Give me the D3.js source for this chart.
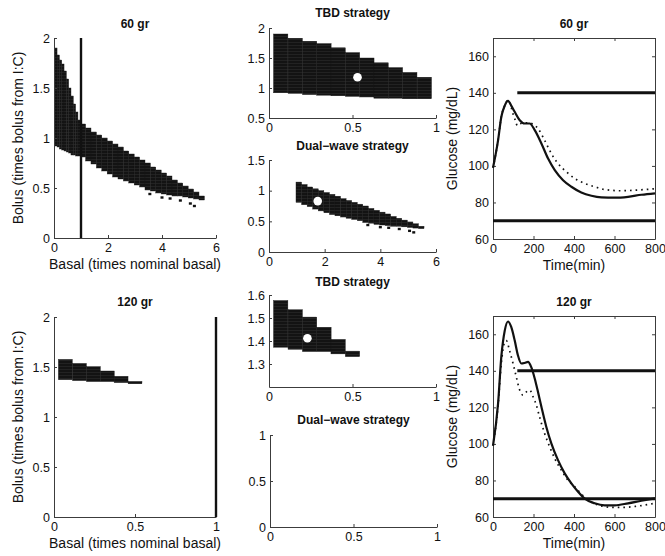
<!DOCTYPE html>
<html>
<head>
<meta charset="utf-8">
<script src="https://cdn.jsdelivr.net/npm/d3@7"></script>
<style>
body{margin:0;background:#fff}
text{font-family:"Liberation Sans",Arial,sans-serif;fill:#111}
</style>
</head>
<body>
<div id="roott"></div>
<script>
// ---- data ----
// TBD strategy, 60 gr : basal column centres, bolus upper / lower bound
let tbdBasal60 = [0.07,0.157,0.243,0.329,0.414,0.5,0.586,0.671,0.757,0.843,0.93];
let tbdHi60    = [1.90,1.83,1.78,1.74,1.67,1.59,1.50,1.42,1.34,1.26,1.18];
let tbdLo60    = [0.92,0.91,0.89,0.88,0.87,0.86,0.85,0.83,0.83,0.82,0.82];
let tbdOpt60   = [0.53,1.18];

// Dual-wave strategy, 60 gr
let dualBasal60 = [1.07,1.27,1.47,1.67,1.87,2.07,2.27,2.47,2.67,2.87,3.07,3.27,3.47,3.67,3.87,4.07,4.27,4.47,4.67,4.87,5.07,5.27,5.47];
let dualHi60    = [1.14,1.10,1.06,1.03,1.00,0.97,0.94,0.91,0.87,0.84,0.81,0.78,0.75,0.71,0.68,0.65,0.62,0.58,0.55,0.52,0.49,0.46,0.42];
let dualLo60    = [0.81,0.77,0.74,0.70,0.67,0.64,0.61,0.59,0.57,0.55,0.53,0.51,0.48,0.47,0.45,0.44,0.43,0.42,0.42,0.41,0.40,0.39,0.38];
let dualStray60 = [[3.55,0.44],[4.0,0.405],[4.3,0.395],[4.68,0.375],[5.05,0.345],[5.2,0.32]];
let dualOpt60   = [1.75,0.83];

// TBD strategy, 120 gr (dual-wave has no feasible point)
let tbdBasal120 = [0.07,0.157,0.243,0.329,0.414,0.5];
let tbdHi120    = [1.576,1.536,1.504,1.46,1.407,1.356];
let tbdLo120    = [1.373,1.364,1.354,1.354,1.344,1.332];
let tbdOpt120   = [0.23,1.412];

// glucose traces (time in min, mg/dL)
let tSolid60 = [0,25,41,58,74,90,107,132,156,181,206,239,272,305,346,387,436,486,535,601,667,733,800];
let gSolid60 = [99,114,126.8,133,135.6,133,129.6,125,123.2,123.2,119.6,112.3,104,97.7,92.2,88.6,85.5,83.7,82.8,82.6,83.1,84.2,85];
let tDot60 = [0,25,41,58,74,90,100,110,120,132,156,181,200,222,255,288,321,362,403,453,502,551,634,716,800];
let gDot60 = [99,114,126.8,133,136,132,128,125,122,123,123.5,123.5,122.5,120.5,114,106.8,101.3,96.8,93.2,90.4,88.6,87.1,86.4,86.8,87.5];

let tSolid120 = [0,25,41,58,74,90,107,123,140,156,173,189,206,222,239,263,288,321,354,387,420,453,502,551,601,667,733,800];
let gSolid120 = [99,122,147.6,162,167,164,156.7,148.5,144,144.3,144.9,142,135.8,128.5,120.3,109.4,100.3,91.1,83.9,78.4,73.8,70,67.5,66.4,66.4,67.5,68.9,70.2];
let tDot120 = [0,25,41,58,66,82,99,115,132,148,165,181,198,214,230,255,280,305,337,370,403,436,469,519,584,650,716,800];
let gDot120 = [99,121,144,155.8,156.5,151,144,136.7,129.4,126.7,128.5,129.4,125.8,121.2,114.8,105.7,98.4,92,85.7,80.2,76.6,72.6,69.3,66.6,65.3,65.3,66,67.5];

let hyperLine = [[120,140],[800,140]];
let hypoLine  = [[0,70],[800,70]];
let nominalBasal = 1;

let basalTicks6 = [0,2,4,6], basalTicks1 = [0,0.5,1];
let bolusTicks = [0,0.5,1,1.5,2];
let timeTicks = [0,200,400,600,800];
let glucTicks = [60,80,100,120,140,160];

// ---- drawing ----
let widthh = 665, heightt = 556;
let svg = d3.select('#roott').append('svg')
  .attr('width', widthh).attr('height', heightt)
  .style('background-color', '#fff');

// striped dark fill like the original patch rendering
let defs = svg.append('defs');
let pat = defs.append('pattern').attr('id','stripes').attr('patternUnits','userSpaceOnUse')
  .attr('width', 6).attr('height', 3);
pat.append('rect').attr('width',6).attr('height',3).attr('fill','#131313');
pat.append('rect').attr('y',0).attr('width',6).attr('height',0.6).attr('fill','#2c2c2c');

let fmt = d3.format('~g');
let axisCol = '#3c3c3c';

function makePanel(p) {
  let g = svg.append('g');
  let x = d3.scaleLinear().domain(p.xd).range([p.x0, p.x1]);
  let y = d3.scaleLinear().domain(p.yd).range([p.y1, p.y0]);
  g.append('g').attr('transform', `translate(0,${p.y1})`)
    .call(d3.axisBottom(x).tickValues(p.xt).tickFormat(fmt).tickSizeInner(-3).tickSizeOuter(0).tickPadding(5));
  g.append('g').attr('transform', `translate(${p.x0},0)`)
    .call(d3.axisLeft(y).tickValues(p.yt).tickFormat(fmt).tickSizeInner(-3).tickSizeOuter(0).tickPadding(4));
  if (p.box) {
    g.append('g').attr('transform', `translate(0,${p.y0})`)
      .call(d3.axisTop(x).tickValues(p.xt).tickFormat('').tickSizeInner(-3).tickSizeOuter(0));
    g.append('g').attr('transform', `translate(${p.x1},0)`)
      .call(d3.axisRight(y).tickValues(p.yt).tickFormat('').tickSizeInner(-3).tickSizeOuter(0));
  }
  g.selectAll('.domain, .tick line').attr('stroke', axisCol);
  g.selectAll('.tick text').style('font-size', '12.5px').attr('fill', '#111');
  if (p.title) {
    g.append('text').attr('x', (p.x0 + p.x1) / 2).attr('y', p.ty)
      .attr('text-anchor', 'middle').style('font-size', '12px').style('font-weight', 'bold')
      .text(p.title);
  }
  if (p.xl) {
    g.append('text').attr('x', (p.x0 + p.x1) / 2).attr('y', p.y1 + 31)
      .attr('text-anchor', 'middle').style('font-size', '14px').text(p.xl);
  }
  if (p.yl) {
    g.append('text').attr('transform', `translate(${p.ylx},${(p.y0 + p.y1) / 2}) rotate(-90)`)
      .attr('text-anchor', 'middle').style('font-size', '14px').text(p.yl);
  }
  return {g, x, y};
}

function drawCols(pan, basal, hi, lo, w) {
  let cols = basal.map((b, i) => ({b, hi: hi[i], lo: lo[i]}));
  pan.g.insert('g', ':first-child').selectAll('rect').data(cols).enter().append('rect')
    .attr('x', d => pan.x(d.b - w / 2))
    .attr('width', d => pan.x(d.b + w / 2) - pan.x(d.b - w / 2))
    .attr('y', d => pan.y(d.hi))
    .attr('height', d => pan.y(d.lo) - pan.y(d.hi))
    .attr('fill', 'url(#stripes)')
    .attr('stroke', '#161616').attr('stroke-width', 0.4);
}
function drawStray(pan, pts) {
  pan.g.selectAll('rect.stray').data(pts).enter().append('rect').attr('class','stray')
    .attr('x', d => pan.x(d[0]) - 1.5).attr('y', d => pan.y(d[1]) - 1.2)
    .attr('width', 3).attr('height', 2.4).attr('fill', '#111');
}
function drawOpt(pan, pt) {
  pan.g.append('circle').attr('cx', pan.x(pt[0])).attr('cy', pan.y(pt[1])).attr('r', 4.3)
    .attr('fill', '#fff');
}
function drawBasalLine(pan) {
  pan.g.append('line').attr('x1', pan.x(nominalBasal)).attr('x2', pan.x(nominalBasal))
    .attr('y1', pan.y(0)).attr('y2', pan.y(2)).attr('stroke', '#111').attr('stroke-width', 2.4);
}
function drawGlucose(pan, ts, gs, dotted) {
  let line = d3.line().x(d => pan.x(d[0])).y(d => pan.y(d[1])).curve(d3.curveMonotoneX);
  let path = pan.g.append('path').datum(ts.map((t, i) => [t, gs[i]]))
    .attr('d', line).attr('fill', 'none').attr('stroke', '#111');
  if (dotted) path.attr('stroke-width', 1.7).attr('stroke-dasharray', '1.6,4').attr('stroke-linecap', 'butt');
  else path.attr('stroke-width', 2.2);
}
function drawLimit(pan, seg) {
  pan.g.append('line').attr('x1', pan.x(seg[0][0])).attr('x2', pan.x(seg[1][0]))
    .attr('y1', pan.y(seg[0][1])).attr('y2', pan.y(seg[1][1]))
    .attr('stroke', '#111').attr('stroke-width', 3);
}

let bolusLabel = 'Bolus (times bolus from I:C)';
let basalLabel = 'Basal (times nominal basal)';

// top row : 60 gr
let pA = makePanel({x0:54,x1:216,y0:38,y1:238,xd:[0,6],yd:[0,2],xt:basalTicks6,yt:bolusTicks,
  title:'60 gr',ty:28,xl:basalLabel,yl:bolusLabel,ylx:23});
drawCols(pA, tbdBasal60, tbdHi60, tbdLo60, 0.086);
drawCols(pA, dualBasal60, dualHi60, dualLo60, 0.2);
drawStray(pA, dualStray60);
drawBasalLine(pA);

let pB = makePanel({x0:269,x1:436,y0:28,y1:118,xd:[0,1],yd:[0.5,2],xt:basalTicks1,yt:[0.5,1,1.5,2],
  title:'TBD strategy',ty:17});
drawCols(pB, tbdBasal60, tbdHi60, tbdLo60, 0.086);
drawOpt(pB, tbdOpt60);

let pC = makePanel({x0:269,x1:436,y0:160,y1:252,xd:[0,6],yd:[0,1.5],xt:basalTicks6,yt:[0,0.5,1,1.5],
  title:'Dual\u2212wave strategy',ty:149.5});
drawCols(pC, dualBasal60, dualHi60, dualLo60, 0.2);
drawStray(pC, dualStray60);
drawOpt(pC, dualOpt60);

let pD = makePanel({x0:493,x1:655,y0:38,y1:239,xd:[0,800],yd:[60,170],xt:timeTicks,yt:glucTicks,box:true,
  title:'60 gr',ty:28,xl:'Time(min)',yl:'Glucose (mg/dL)',ylx:457});
drawLimit(pD, hyperLine);
drawLimit(pD, hypoLine);
drawGlucose(pD, tDot60, gDot60, true);
drawGlucose(pD, tSolid60, gSolid60, false);

// bottom row : 120 gr
let pE = makePanel({x0:54,x1:216,y0:317,y1:517,xd:[0,1],yd:[0,2],xt:basalTicks1,yt:bolusTicks,
  title:'120 gr',ty:306,xl:basalLabel,yl:bolusLabel,ylx:23});
drawCols(pE, tbdBasal120, tbdHi120, tbdLo120, 0.086);
drawBasalLine(pE);

let pF = makePanel({x0:269,x1:436,y0:295,y1:387,xd:[0,1],yd:[1.2,1.6],xt:basalTicks1,yt:[1.3,1.4,1.5,1.6],
  title:'TBD strategy',ty:286});
drawCols(pF, tbdBasal120, tbdHi120, tbdLo120, 0.086);
drawOpt(pF, tbdOpt120);

let pG = makePanel({x0:270,x1:437,y0:435,y1:527,xd:[0,1],yd:[0,1],xt:basalTicks1,yt:[0,0.5,1],
  title:'Dual\u2212wave strategy',ty:424});

let pH = makePanel({x0:493,x1:655,y0:316,y1:517,xd:[0,800],yd:[60,170],xt:timeTicks,yt:glucTicks,box:true,
  title:'120 gr',ty:306,xl:'Time(min)',yl:'Glucose (mg/dL)',ylx:457});
drawLimit(pH, hyperLine);
drawLimit(pH, hypoLine);
drawGlucose(pH, tDot120, gDot120, true);
drawGlucose(pH, tSolid120, gSolid120, false);
</script>
</body>
</html>
